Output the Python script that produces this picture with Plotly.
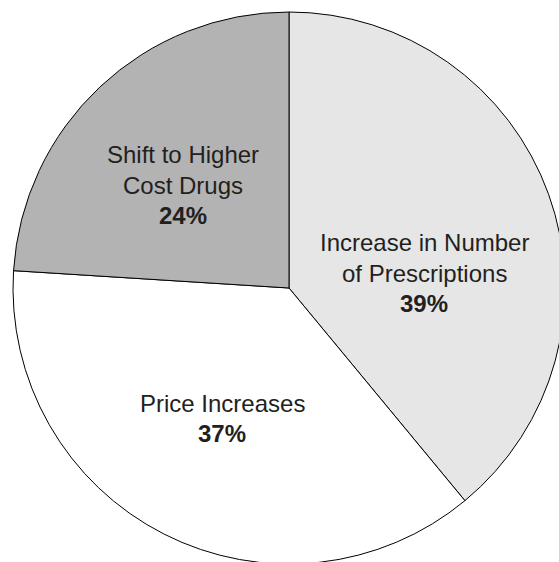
import plotly.graph_objects as go

# Drivers of drug spending growth
categories = ["Increase in Number of Prescriptions", "Price Increases", "Shift to Higher Cost Drugs"]
shares = [39, 37, 24]
label_lines = [["Increase in Number", "of Prescriptions"], ["Price Increases"], ["Shift to Higher", "Cost Drugs"]]
slice_colors = ["#e6e6e6", "#ffffff", "#b3b3b3"]

W, H = 566, 566
cx, cy, r = 289, 288, 276  # pie centre and radius in pixels

# label block centres (pixels) and line spacing
label_centers = [(424, 243), (222, 403), (183, 155)]
line_gap = 30
font_family = "Liberation Sans, Arial, sans-serif"
ink = "#231f20"

fig = go.Figure(go.Pie(
    labels=categories,
    values=shares,
    sort=False,
    direction="clockwise",
    rotation=0,
    marker=dict(colors=slice_colors, line=dict(color="#000000", width=1)),
    textinfo="none",
    hoverinfo="label+percent",
    showlegend=False,
    domain=dict(x=[(cx - r) / W, (cx + r) / W], y=[(H - cy - r) / H, (H - cy + r) / H]),
))

annotations = []
for lines, share, (lx, ly) in zip(label_lines, shares, label_centers):
    rows = [(t, False) for t in lines] + [(f"{share}%", True)]
    for i, (t, bold) in enumerate(rows):
        annotations.append(dict(
            x=lx / W, y=1 - (ly + i * line_gap) / H, xref="paper", yref="paper",
            text=f"<b>{t}</b>" if bold else t, showarrow=False,
            xanchor="center", yanchor="middle",
            font=dict(family=font_family, size=24, color=ink),
        ))

fig.update_layout(
    width=W, height=H, autosize=False,
    margin=dict(l=0, r=0, t=0, b=0),
    paper_bgcolor="#ffffff", plot_bgcolor="#ffffff",
    annotations=annotations,
)

fig.write_html(
    "out.html",
    post_script="document.documentElement.style.overflow='hidden';"
                "document.body.style.overflow='hidden';document.body.style.margin='0';",
)
